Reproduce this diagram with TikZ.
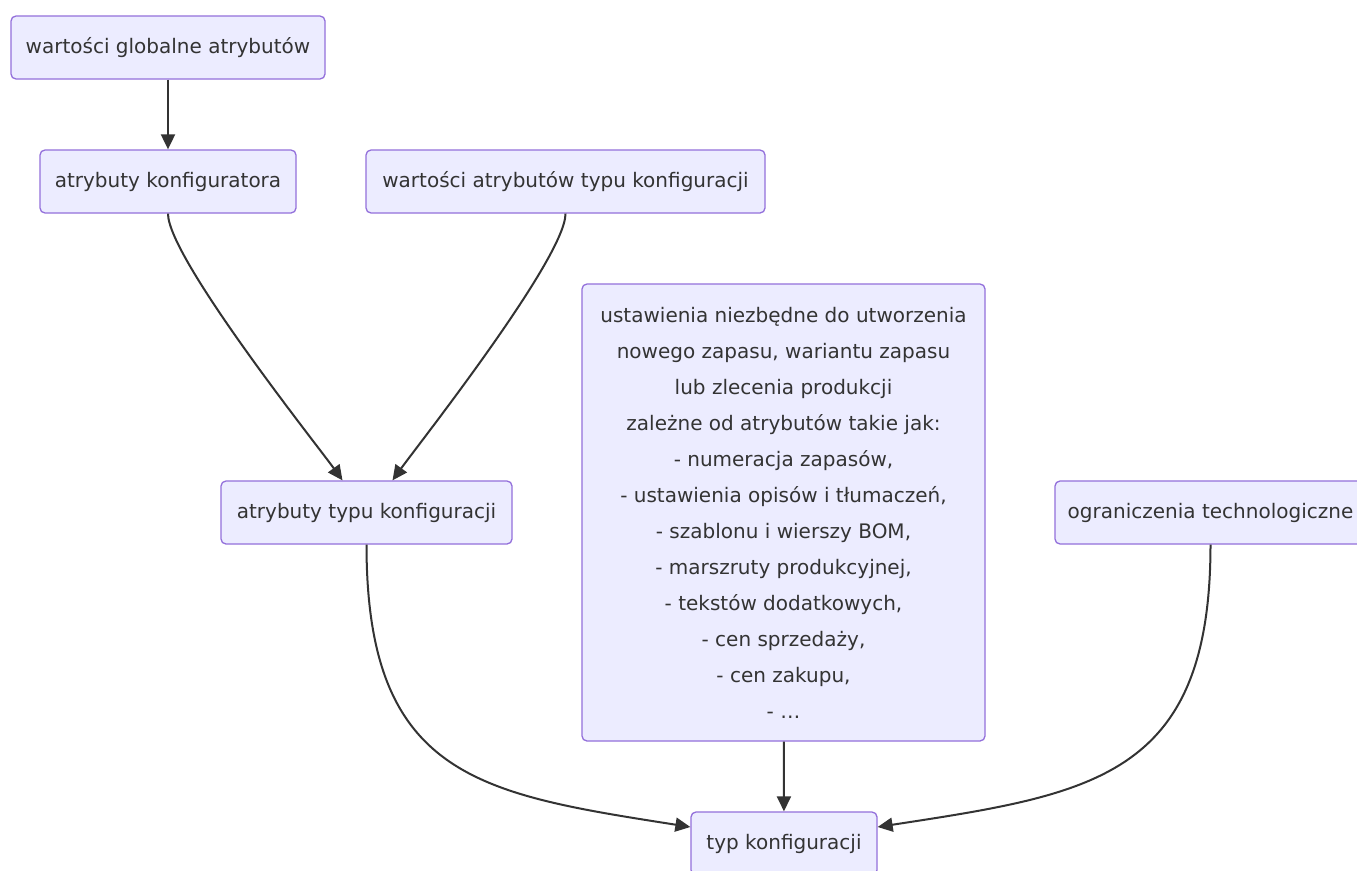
\documentclass[tikz,border=0pt]{standalone}
\usepackage{fontspec}
\setmainfont{DejaVu Sans}
\usetikzlibrary{arrows.meta}
\definecolor{nodefill}{HTML}{ECECFF}
\definecolor{nodeborder}{HTML}{9370DB}
\definecolor{edgecol}{HTML}{333333}
\definecolor{txtcol}{HTML}{333333}
\begin{document}
\begin{tikzpicture}[x=1pt,y=1pt,
  box/.style={draw=nodeborder, line width=1.3pt, fill=nodefill, rounded corners=5pt,
    text=txtcol, font=\fontsize{20}{36}\selectfont, align=center, inner sep=0pt,
    minimum height=63pt},
  conn/.style={draw=edgecol, line width=2pt, -{Triangle[length=15pt,width=14pt]}}]
\useasboundingbox (0,0) rectangle (1357,-870);
\clip (0,0) rectangle (1357,-870);
\fill[white] (0,0) rectangle (1357,-870);
\node[box, minimum width=314pt] (n1) at (168,-47.5) {wartości globalne atrybutów};
\node[box, minimum width=256pt] (n2) at (168,-181.5) {atrybuty konfiguratora};
\node[box, minimum width=399pt] (n3) at (565.5,-181.5) {wartości atrybutów typu konfiguracji};
\node[box, minimum width=291pt] (n4) at (366.5,-512.5) {atrybuty typu konfiguracji};
\node[box, minimum width=403pt, minimum height=457pt] (n5) at (783.5,-512.5)
  {ustawienia niezbędne do utworzenia\\nowego zapasu, wariantu zapasu\\lub zlecenia produkcji\\zależne od atrybutów takie jak:\\- numeracja zapasów,\\- ustawienia opisów i tłumaczeń,\\- szablonu i wierszy BOM,\\- marszruty produkcyjnej,\\- tekstów dodatkowych,\\- cen sprzedaży,\\- cen zakupu,\\- \dots};
\node[box, minimum width=311pt] (n6) at (1210.5,-512.5) {ograniczenia technologiczne};
\node[box, minimum width=186pt] (n7) at (784,-843.5) {typ konfiguracji};
\draw[conn] (n1) -- (n2);
\draw[conn] (n2.south) .. controls +(0,-44) and +(-26,36) .. ([xshift=-24pt]n4.north);
\draw[conn] (n3.south) .. controls +(0,-44) and +(26,36) .. ([xshift=26pt]n4.north);
\draw[conn] (n5) -- (n7);
\draw[conn] (n4.south) .. controls +(0,-233) and +(-210,33) .. ([yshift=16.5pt]n7.west);
\draw[conn] (n6.south) .. controls +(0,-233) and +(215,33) .. ([yshift=16.5pt]n7.east);
\end{tikzpicture}
\end{document}
